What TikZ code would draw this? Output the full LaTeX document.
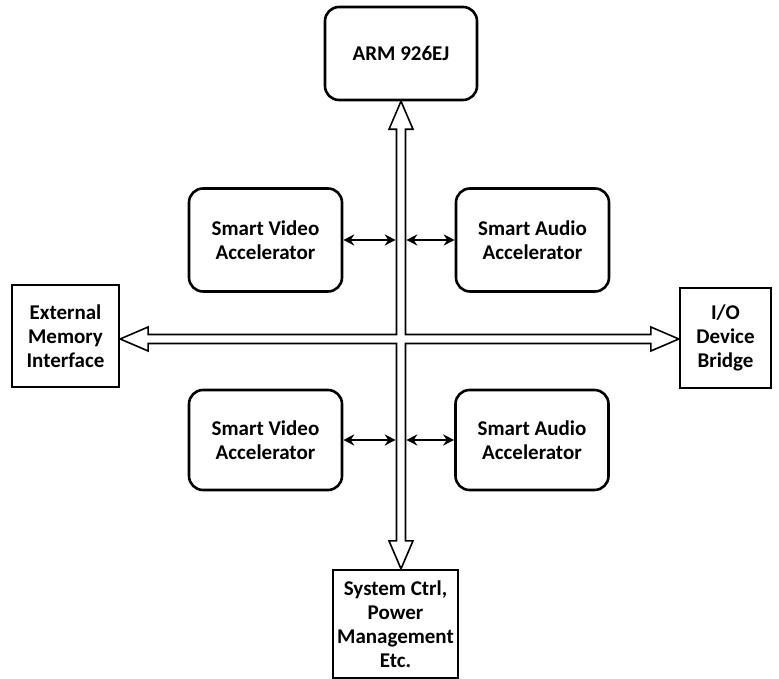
\documentclass[tikz,border=0pt]{standalone}
\usepackage{fontspec}
\setmainfont{Carlito}
\usetikzlibrary{arrows.meta,calc}

\tikzset{
  blk/.style={draw,line width=2.6pt,rounded corners=14pt,align=center,inner sep=0pt,
    font=\bfseries\fontsize{21}{24}\selectfont},
  accel/.style={blk,minimum width=153pt,minimum height=103pt},
  port/.style={draw,line width=2.3pt,align=center,inner sep=0pt,
    font=\bfseries\fontsize{21}{24}\selectfont},
  link/.style={<->,line width=2.2pt},
}
\def\sw{4.5pt}
\def\hw{12pt}
\def\hl{28pt}

\begin{document}
\begin{tikzpicture}[x=1pt,y=1pt,>={Stealth[length=11pt,width=11pt]}]
\useasboundingbox (0,0) rectangle (779,679);
% ---------- processor and accelerators ----------
\node[blk,minimum width=152pt,minimum height=93pt] (arm) at (401,625.5) {ARM 926EJ};
\node[accel] (vidA) at (265.5,439) {Smart Video\\Accelerator};
\node[accel] (audA) at (532.5,439) {Smart Audio\\Accelerator};
\node[accel,minimum height=100pt] (vidB) at (265.5,239) {Smart Video\\Accelerator};
\node[accel,minimum height=100pt] (audB) at (532,239) {Smart Audio\\Accelerator};
% ---------- outer ports ----------
\node[port,minimum width=107pt,minimum height=102pt] (emi) at (65.5,343) {External\\Memory\\Interface};
\node[port,minimum width=91pt,minimum height=100pt] (io) at (725.5,341) {I/O\\Device\\Bridge};
\node[port,minimum width=125pt,minimum height=108pt] (sys) at (395.5,55) {System Ctrl,\\Power\\Management\\Etc.};
% ---------- hollow cross bus ----------
\coordinate (hub) at (401,340);
\draw[line width=1.6pt,line join=miter]
  let \p0=(hub), \p1=(arm.south), \p2=(sys.north), \p3=(emi.east), \p4=(io.west) in
  (\x0,\y1) -- (\x0+\hw,\y1-\hl) -- (\x0+\sw,\y1-\hl) -- (\x0+\sw,\y0+\sw)
  -- (\x4-\hl,\y0+\sw) -- (\x4-\hl,\y0+\hw) -- (\x4,\y0) -- (\x4-\hl,\y0-\hw) -- (\x4-\hl,\y0-\sw)
  -- (\x0+\sw,\y0-\sw) -- (\x0+\sw,\y2+\hl) -- (\x0+\hw,\y2+\hl) -- (\x0,\y2)
  -- (\x0-\hw,\y2+\hl) -- (\x0-\sw,\y2+\hl) -- (\x0-\sw,\y0-\sw)
  -- (\x3+\hl,\y0-\sw) -- (\x3+\hl,\y0-\hw) -- (\x3,\y0) -- (\x3+\hl,\y0+\hw) -- (\x3+\hl,\y0+\sw)
  -- (\x0-\sw,\y0+\sw) -- (\x0-\sw,\y1-\hl) -- (\x0-\hw,\y1-\hl) -- cycle;
% bus edges for the short links
\coordinate (busL) at ($(hub)+(-5.3,0)$);
\coordinate (busR) at ($(hub)+(5.3,0)$);
\draw[link] (vidA.east) -- (vidA.east -| busL);
\draw[link] (audA.west) -- (audA.west -| busR);
\draw[link] (vidB.east) -- (vidB.east -| busL);
\draw[link] (audB.west) -- (audB.west -| busR);
\end{tikzpicture}
\end{document}
